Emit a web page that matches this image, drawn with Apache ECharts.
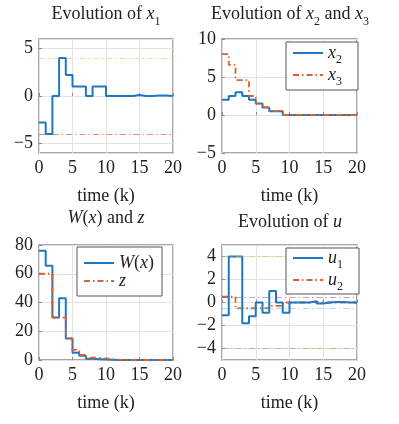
<!DOCTYPE html>
<html>
<head>
<meta charset="utf-8">
<script src="https://cdn.jsdelivr.net/npm/echarts@6/dist/echarts.min.js"></script>
<style>
  html, body { margin: 0; padding: 0; background: #fff; }
  #chart { width: 399px; height: 424px; }
</style>
</head>
<body>
<div id="chart"></div>
<script>
// time steps
var k = [0, 1, 2, 3, 4, 5, 6, 7, 8, 9, 10, 11, 12, 13, 14, 15, 16, 17, 18, 19, 20];

// states
var x1 = [-2.8, -4, 0, 4, 2.2, 1, 1, 0, 1, 1, 0, 0, 0, 0, 0.1, 0, 0, 0.04, 0.04, 0, 0];
var x2 = [2, 2.5, 3, 2.5, 2, 1.5, 1, 0.5, 0.5, 0, 0, 0, 0, 0, 0, 0, 0, 0, 0, 0, 0];
var x3 = [8, 6.6, 4.6, 4.6, 2.5, 1.5, 1, 0.5, 0.5, 0, 0, 0, 0, 0, 0, 0, 0, 0, 0, 0, 0];

// W(x) and z
var W = [76, 65.5, 29.5, 43, 15, 5, 3, 0.8, 0.6, 0.4, 0.2, 0, 0, 0, 0, 0, 0, 0, 0, 0, 0];
var z = [60, 60, 29.5, 29.5, 15, 7, 3.6, 1.6, 1.5, 1, 0.5, 0.2, 0, 0, 0, 0, 0, 0, 0, 0, 0];

// inputs
var u1 = [-1.1, 4, 4, -1.8, -1.2, 0, -0.9, 1, 0, -0.9, 0, 0, 0, 0.12, -0.08, 0, 0.04, 0.04, 0, 0, 0];
var u2 = [0.5, 0.5, -0.5, -0.5, -0.5, -0.5, -0.5, -0.3, -0.3, 0, 0, 0, 0, 0.08, 0, 0, 0, 0, 0, 0, 0];

// constraint levels
var x1Bounds = [4, -4];
var uBounds = [4, 0.5, -0.5, -4];

var BLUE = '#1f77c4';
var RED = '#e0602a';
var FONT = 'Liberation Serif';
var dashDot = [6, 3, 1.5, 3];

function pairs(v) {
    return k.map(function (t, i) { return [t, v[i]]; });
}

function minus(v) {
    return String(v).replace('-', '\u2212');
}

function richText(lh) {
    return {
        n: {fontFamily: FONT, fontSize: 18, fontWeight: 'normal', color: '#222', lineHeight: lh},
        i: {fontFamily: FONT, fontSize: 18, fontWeight: 'normal', fontStyle: 'italic', color: '#222', lineHeight: lh},
        s: {fontFamily: FONT, fontSize: 12, fontWeight: 'normal', color: '#222', lineHeight: lh, verticalAlign: 'bottom', padding: [0, 0, -5, 0]}
    };
}

var grids = [
    {left: 39, top: 39, width: 134, height: 114},
    {left: 222, top: 39, width: 135, height: 114},
    {left: 39, top: 245, width: 134, height: 115},
    {left: 222, top: 245, width: 135, height: 115}
];

var yRanges = [
    {min: -6, max: 6, splitNumber: 2},
    {min: -5, max: 10, interval: 5},
    {min: 0, max: 80, interval: 20},
    {min: -5, max: 5, splitNumber: 5}
];

var option = {
    animation: false,
    backgroundColor: '#fff',
    title: [
        {text: '{n|Evolution of }{i|x}{s|1}', left: 106, top: 5},
        {text: '{n|Evolution of }{i|x}{s|2}{n| and }{i|x}{s|3}', left: 290, top: 5},
        {text: '{i|W}{n|(}{i|x}{n|) and }{i|z}', left: 106, top: 209},
        {text: '{n|Evolution of }{i|u}', left: 290, top: 213}
    ].map(function (t) {
        t.textAlign = 'center';
        t.padding = 0;
        t.textStyle = {rich: richText(18), fontWeight: 'normal'};
        return t;
    }),
    grid: grids.map(function (g) {
        return Object.assign({show: true, borderColor: '#8a8a8a', borderWidth: 1.5, backgroundColor: 'transparent'}, g);
    }),
    xAxis: grids.map(function (g, i) {
        return {
            type: 'value', gridIndex: i, min: 0, max: 20, interval: 5,
            name: 'time (k)', nameLocation: 'middle', nameGap: 34,
            nameTextStyle: {fontFamily: FONT, fontSize: 18, color: '#222'},
            axisLine: {show: false},
            axisTick: {show: true, inside: true, length: 3, lineStyle: {color: '#8a8a8a'}},
            axisLabel: {fontFamily: FONT, fontSize: 18, color: '#222', margin: 6},
            splitLine: {show: true, lineStyle: {color: '#e2e2e2', width: 1}}
        };
    }),
    yAxis: yRanges.map(function (r, i) {
        return Object.assign({
            type: 'value', gridIndex: i,
            axisLine: {show: false},
            axisTick: {show: true, inside: true, length: 3, lineStyle: {color: '#8a8a8a'}},
            axisLabel: {fontFamily: FONT, fontSize: 18, color: '#222', margin: 6,
                showMinLabel: i === 1 || i === 2, showMaxLabel: i === 1 || i === 2,
                formatter: minus},
            splitLine: {show: true, lineStyle: {color: '#e2e2e2', width: 1}}
        }, r);
    }),
    legend: [
        {data: ['x2', 'x3'], left: 286, top: 42, padding: [2, 16, 2, 6],
            formatter: function (n) { return n === 'x2' ? '{i|x}{s|2}' : '{i|x}{s|3}'; }},
        {data: ['W', 'z'], left: 77, top: 247, padding: [7, 8, 6, 6],
            formatter: function (n) { return n === 'W' ? '{i|W}{n|(}{i|x}{n|)}' : '{i|z}'; }},
        {data: ['u1', 'u2'], left: 286, top: 248, padding: [1, 16, 1, 6],
            formatter: function (n) { return n === 'u1' ? '{i|u}{s|1}' : '{i|u}{s|2}'; }}
    ].map(function (l) {
        return Object.assign({
            orient: 'vertical', itemWidth: 30, itemHeight: 10, itemGap: 0, z: 20,
            borderColor: '#555', borderWidth: 1, backgroundColor: '#fff',
            itemStyle: {opacity: 0},
            textStyle: {rich: richText(16)}
        }, l);
    }),
    series: [
        {
            name: 'x1', type: 'line', step: 'end', xAxisIndex: 0, yAxisIndex: 0,
            data: pairs(x1), symbol: 'none', lineStyle: {color: BLUE, width: 2}, z: 5,
            markLine: {
                silent: true, symbol: 'none', label: {show: false},
                data: [
                    {yAxis: x1Bounds[0], lineStyle: {color: 'rgba(237,177,32,0.5)', type: dashDot, width: 1.2}},
                    {yAxis: x1Bounds[1], lineStyle: {color: 'rgba(217,83,25,0.65)', type: dashDot, width: 1.2}}
                ]
            }
        },
        {
            name: 'x2', type: 'line', step: 'end', xAxisIndex: 1, yAxisIndex: 1,
            data: pairs(x2), symbol: 'none', color: BLUE, lineStyle: {color: BLUE, width: 2}
        },
        {
            name: 'x3', type: 'line', step: 'end', xAxisIndex: 1, yAxisIndex: 1,
            data: pairs(x3), symbol: 'none', color: RED, lineStyle: {color: RED, width: 1.8, type: dashDot}
        },
        {
            name: 'W', type: 'line', step: 'end', xAxisIndex: 2, yAxisIndex: 2,
            data: pairs(W), symbol: 'none', color: BLUE, lineStyle: {color: BLUE, width: 2}
        },
        {
            name: 'z', type: 'line', step: 'end', xAxisIndex: 2, yAxisIndex: 2,
            data: pairs(z), symbol: 'none', color: RED, lineStyle: {color: RED, width: 1.8, type: dashDot}
        },
        {
            name: 'u1', type: 'line', step: 'end', xAxisIndex: 3, yAxisIndex: 3,
            data: pairs(u1), symbol: 'none', color: BLUE, lineStyle: {color: BLUE, width: 2}, z: 4,
            markLine: {
                silent: true, symbol: 'none', label: {show: false},
                data: [
                    {yAxis: uBounds[0], lineStyle: {color: 'rgba(237,177,32,0.5)', type: dashDot, width: 1.2}},
                    {yAxis: uBounds[1], lineStyle: {color: 'rgba(126,47,142,0.45)', type: dashDot, width: 1.2}},
                    {yAxis: uBounds[2], lineStyle: {color: 'rgba(77,190,238,0.55)', type: dashDot, width: 1.2}},
                    {yAxis: uBounds[3], lineStyle: {color: 'rgba(119,172,48,0.55)', type: dashDot, width: 1.2}}
                ]
            }
        },
        {
            name: 'u2', type: 'line', step: 'end', xAxisIndex: 3, yAxisIndex: 3,
            data: pairs(u2), symbol: 'none', color: RED, lineStyle: {color: RED, width: 1.8, type: dashDot}, z: 3
        }
    ]
};

var chart = echarts.init(document.getElementById('chart'), null, {renderer: 'canvas'});
chart.setOption(option);
</script>
</body>
</html>
